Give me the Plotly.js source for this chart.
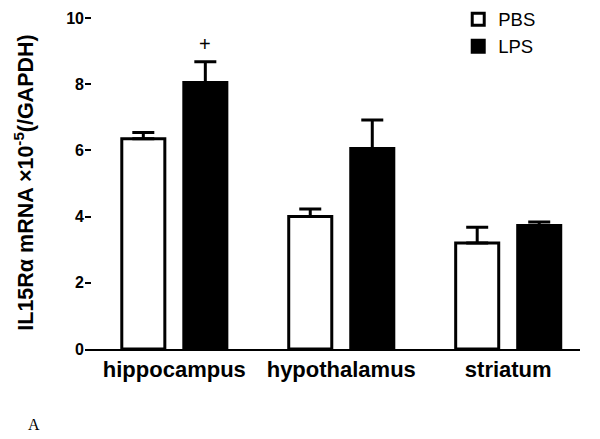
<!DOCTYPE html>
<html>
<head>
<meta charset="utf-8">
<script src="https://cdn.plot.ly/plotly-3.0.1.min.js"></script>
<style>html,body{margin:0;padding:0;background:#fff;}#chart{width:600px;height:439px;}</style>
</head>
<body>
<div id="chart"></div>
<script>
var regions = ["hippocampus", "hypothalamus", "striatum"];
var pbsMean = [6.35, 4.0, 3.2];
var pbsErr = [0.19, 0.23, 0.48];
var lpsMean = [8.05, 6.06, 3.73];
var lpsErr = [0.63, 0.86, 0.11];
var yTicks = [0, 2, 4, 6, 8, 10];

var font = "Liberation Sans, Arial, sans-serif";

var traces = [
  {
    type: "bar", name: "PBS", x: regions, y: pbsMean,
    marker: {color: "#ffffff", line: {color: "#000000", width: 3}},
    error_y: {type: "data", array: pbsErr, arrayminus: pbsMean.map(function(){return 0;}), symmetric: false, color: "#000000", thickness: 3, width: 11}
  },
  {
    type: "bar", name: "LPS", x: regions, y: lpsMean,
    marker: {color: "#000000", line: {color: "#000000", width: 3}},
    error_y: {type: "data", array: lpsErr, arrayminus: lpsMean.map(function(){return 0;}), symmetric: false, color: "#000000", thickness: 3, width: 11}
  }
];

var layout = {
  width: 600, height: 439,
  margin: {l: 85, r: 20, t: 16, b: 90, autoexpand: false},
  paper_bgcolor: "#ffffff", plot_bgcolor: "#ffffff",
  barmode: "group", bargap: 0.257, bargroupgap: 0.306,
  showlegend: true,
  legend: {
    x: 0.754, y: 1.046, xanchor: "left", yanchor: "top",
    font: {family: font, size: 18.5, color: "#000"},
    bgcolor: "rgba(0,0,0,0)", borderwidth: 0
  },
  xaxis: {
    type: "category", range: [-0.535, 2.43],
    showline: true, linecolor: "#000", linewidth: 2,
    ticks: "", showgrid: false, zeroline: false,
    tickfont: {family: font, size: 22, color: "#000", weight: "bold"}
  },
  yaxis: {
    range: [0, 10.06], tickvals: yTicks, ticktext: yTicks.map(String),
    showline: false, ticks: "inside", ticklen: 6, tickwidth: 2, tickcolor: "#000",
    showgrid: false, zeroline: false,
    tickfont: {family: font, size: 16, color: "#000", weight: "bold"},
    title: {text: "IL15R\u03b1 mRNA \u00d710<sup>-5</sup>(/GAPDH)", font: {family: font, size: 21.5, color: "#000", weight: "bold"}, standoff: 26}
  },
  annotations: [
    {x: "hippocampus", y: 9.2, xref: "x", yref: "y", xshift: 31, text: "+", showarrow: false, font: {family: font, size: 20, color: "#000"}},
    {x: -0.12, y: -0.258, xref: "paper", yref: "paper", text: "A", showarrow: false, font: {family: "Liberation Serif, Times New Roman, serif", size: 16, color: "#000"}}
  ]
};

Plotly.newPlot("chart", traces, layout, {displayModeBar: false, staticPlot: true});
</script>
</body>
</html>
